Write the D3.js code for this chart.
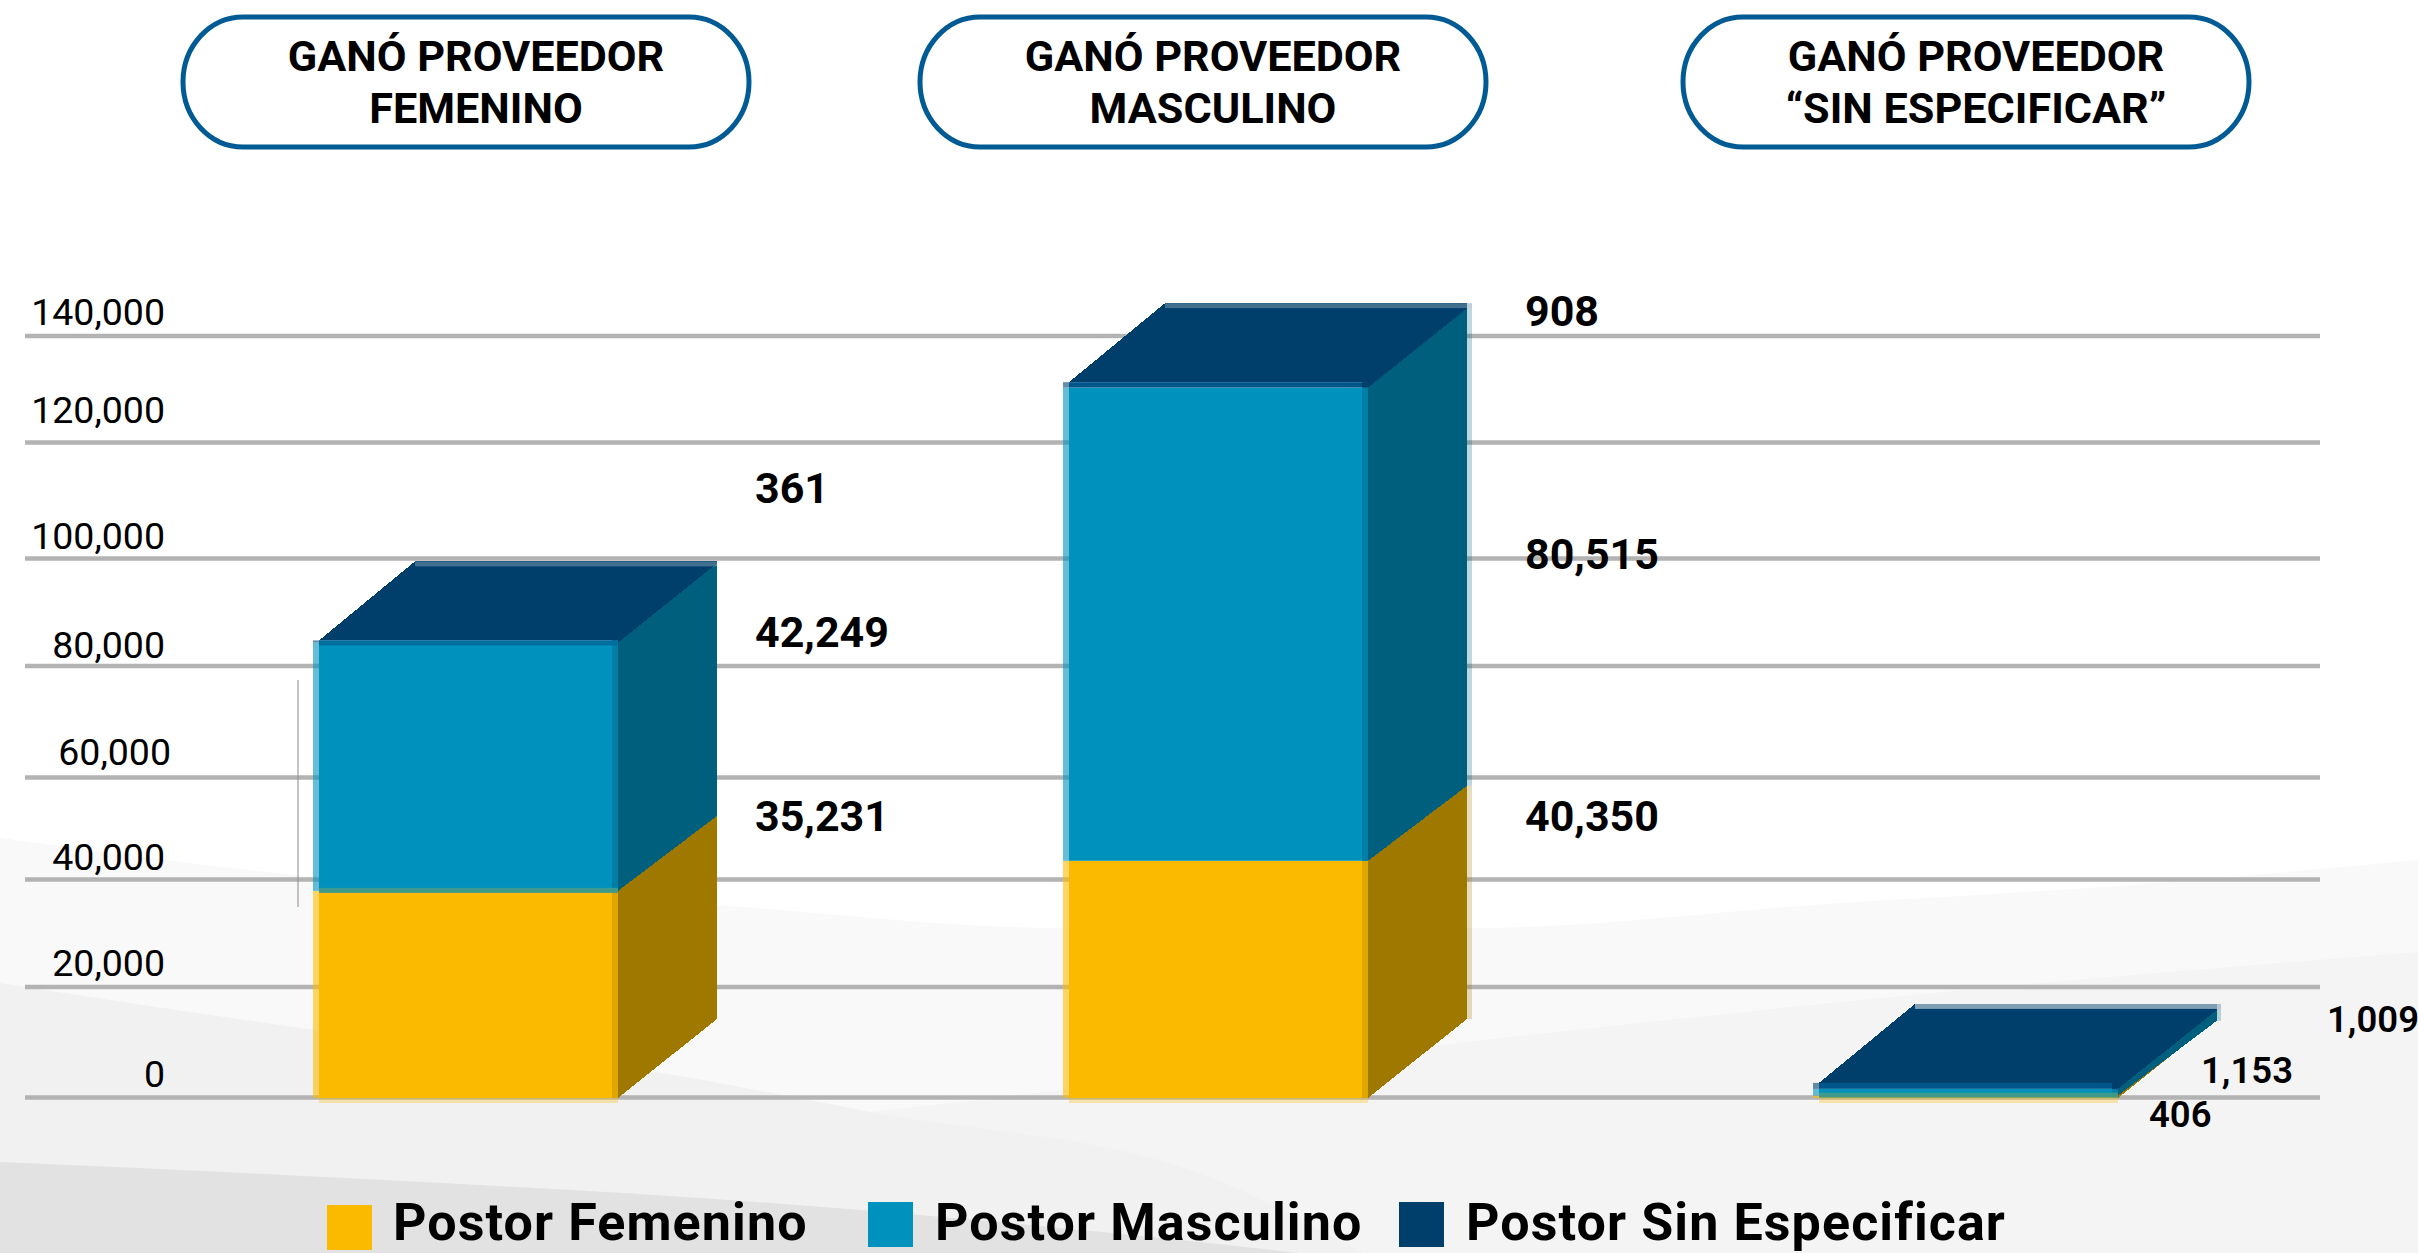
<!DOCTYPE html>
<html>
<head>
<meta charset="utf-8">
<script src="https://cdn.jsdelivr.net/npm/d3@7/dist/d3.min.js"></script>
<style>
  html, body { margin: 0; padding: 0; background: #fff; }
  text { font-family: Roboto, sans-serif; fill: #000; }
</style>
</head>
<body>
<script>
// data
var categories = ['Femenino', 'Masculino', 'Sin Especificar'];
var seriesNames = ['Postor Femenino', 'Postor Masculino', 'Postor Sin Especificar'];
var femenino = [35231, 40350, 406];
var masculino = [42249, 80515, 1153];
var sinEspecificar = [361, 908, 1009];
var tickValues = [0, 20000, 40000, 60000, 80000, 100000, 120000, 140000];
var panelLines = [
  ['GANÓ PROVEEDOR', 'FEMENINO'],
  ['GANÓ PROVEEDOR', 'MASCULINO'],
  ['GANÓ PROVEEDOR', '“SIN ESPECIFICAR”']
];

// the gridlines of the original are not evenly spaced, the bars are on their own scale
var gridY = [1097, 986.5, 879, 777, 665.5, 558, 442, 335.5];
var tickBaseline = [1087, 976, 870, 765, 658, 549, 423, 325];
var tickRight = [165, 165, 165, 171, 165, 165, 165, 165];

var width = 2418;
var height = 1253;
var depthX = 99;
var depthY = 79;
var boundaryDepthY = 75;
var fringe = 6;
var sideFringe = [0, 5, 4];

var colors = ['#fbba00', '#0091bd', '#003f6b'];
var frontEdge = ['#e0a600', '#007ea6', '#003f6b'];
var sideColors = ['#9f7800', '#005f7c', '#003f6b'];

var svg = d3.select('body').append('svg')
  .attr('width', width).attr('height', height)
  .style('display', 'block');

// background shapes
var bgLine = d3.line().curve(d3.curveMonotoneX);
var bgShapes = [
  {fill: '#f9f9f9', pts: [[0, 838], [316, 877], [717, 905], [1064, 928], [1471, 928], [1841, 903], [2130, 885], [2418, 860]], tail: [[2418, 1253], [0, 1253]]},
  {fill: '#f4f4f4', pts: [[871, 1112], [1064, 1090], [1440, 1045], [1965, 990], [2418, 952]], tail: [[2418, 1253], [871, 1253]]},
  {fill: '#f1f1f1', pts: [[0, 983], [316, 1030], [655, 1072], [871, 1112], [1209, 1177], [1363, 1253]], tail: [[0, 1253]]},
  {fill: '#e2e2e2', pts: [[0, 1162], [385, 1180], [771, 1203], [1209, 1243], [1300, 1253]], tail: [[0, 1253]]}
];
bgShapes.forEach(function(s) {
  var d = bgLine(s.pts) + s.tail.map(function(p) { return 'L' + p[0] + ',' + p[1]; }).join('') + 'Z';
  svg.append('path').attr('d', d).attr('fill', s.fill);
});

// header pills
var pillX = [183, 920, 1683];
var pills = svg.selectAll('g.pill').data(panelLines).enter().append('g').attr('class', 'pill');
pills.append('rect')
  .attr('x', function(d, i) { return pillX[i]; })
  .attr('y', 17).attr('width', 566).attr('height', 130)
  .attr('rx', 60).attr('ry', 65)
  .attr('fill', '#fff').attr('stroke', '#005a94').attr('stroke-width', 5);
pills.selectAll('text').data(function(d, i) {
  return d.map(function(t) { return {t: t, i: i}; });
}).enter().append('text')
  .attr('x', function(d) { return pillX[d.i] + 293; })
  .attr('y', function(d, j) { return j === 0 ? 71 : 123; })
  .attr('text-anchor', 'middle')
  .style('font-size', '43.2px').style('font-weight', 700)
  .text(function(d) { return d.t; });

// gridlines and tick labels
var yGrid = d3.scaleLinear().domain(tickValues).range(gridY);
var axis = d3.axisLeft(yGrid).tickValues(tickValues).tickSize(-2295).tickFormat(d3.format(','));
var axisG = svg.append('g').attr('transform', 'translate(25,0)').call(axis);
axisG.select('.domain').remove();
axisG.selectAll('.tick line').attr('stroke', '#b3b3b3').attr('stroke-width', 4.5);
axisG.selectAll('.tick text')
  .attr('text-anchor', 'end').attr('dy', 0)
  .attr('x', function(d, i) { return tickRight[i] - 25; })
  .attr('y', function(d, i) { return tickBaseline[i] - yGrid(d) - 0.5; })
  .style('font-family', 'Roboto, sans-serif')
  .style('font-size', '37.5px').style('font-weight', 400).style('fill', '#000');

// stray thin line left of the first bar
svg.append('line').attr('x1', 298).attr('x2', 298).attr('y1', 680).attr('y2', 907)
  .attr('stroke', '#8a8a8a').attr('stroke-width', 1);

// bars
var x = d3.scalePoint().domain(categories).range([313, 1813]);
var yBar = d3.scaleLinear().domain([0, 140000]).range([1098, 275]);
var barWidth = 305;

var rows = categories.map(function(c, i) {
  return {cat: c, a: femenino[i], b: masculino[i], c: sinEspecificar[i]};
});
var stacked = d3.stack().keys(['a', 'b', 'c'])(rows);

categories.forEach(function(cat, i) {
  var g = svg.append('g').attr('class', 'bar');
  var left = x(cat) + fringe;
  var right = x(cat) + barWidth;
  var total = stacked[2][i][1];

  stacked.forEach(function(layer, k) {
    var y0 = yBar(layer[i][0]);
    var y1 = yBar(layer[i][1]);
    // the yellow/blue join sits a little lower on the back edge of the side face
    var backY0 = y0 - (k === 1 ? boundaryDepthY : depthY);
    var backY1 = y1 - (k === 0 ? boundaryDepthY : depthY);
    // light edge on the left
    g.append('rect').attr('x', x(cat)).attr('y', y1).attr('width', fringe).attr('height', y0 - y1)
      .attr('fill', colors[k]).attr('opacity', 0.6);
    g.append('rect').attr('x', left).attr('y', y1).attr('width', right - left).attr('height', y0 - y1)
      .attr('fill', k === 2 ? '#00558a' : colors[k]);
    g.append('rect').attr('x', right - fringe).attr('y', y1).attr('width', fringe).attr('height', y0 - y1)
      .attr('fill', frontEdge[k]);
    // side face
    g.append('polygon')
      .attr('points', [[right, y0], [right + depthX, backY0], [right + depthX, backY1], [right, y1]].join(' '))
      .attr('fill', sideColors[k]).attr('shape-rendering', 'crispEdges');
    if (sideFringe[i] > 0) {
      g.append('rect').attr('x', right + depthX).attr('y', backY1)
        .attr('width', sideFringe[i]).attr('height', Math.max(0, backY0 - backY1))
        .attr('fill', sideColors[k]).attr('opacity', 0.25);
    }
  });

  // soft strip under the base
  g.append('rect').attr('x', left).attr('y', 1098).attr('width', right - left).attr('height', 5)
    .attr('fill', colors[0]).attr('opacity', 0.3);

  // blended band between yellow and blue
  if (i !== 1) {
    var yb = yBar(stacked[0][i][1]);
    g.append('rect').attr('x', left).attr('y', yb - 3).attr('width', right - left).attr('height', 5)
      .attr('fill', '#3f9a8e');
  }

  // top face
  var yTop = yBar(total);
  if (i === 0) {
    g.append('rect').attr('x', left).attr('y', yTop).attr('width', right - left).attr('height', 5)
      .attr('fill', '#006e9f');
  }
  g.append('polygon')
    .attr('points', [[left, yTop], [left + 96, yTop - depthY], [right + depthX, yTop - depthY], [right, yTop]].join(' '))
    .attr('fill', colors[2]).attr('shape-rendering', 'crispEdges');
  g.append('rect').attr('x', left + 96).attr('y', yTop - depthY).attr('width', right + depthX - left - 96).attr('height', 5)
    .attr('fill', '#fff').attr('opacity', i === 2 ? 0.5 : 0.25);
});

// value labels
var fmt = d3.format(',');
var labelX = [
  [755, 755, 755],
  [1525, 1525, 1525],
  [2149, 2201, 2327]
];
var labelY = [
  [831, 647, 503],
  [831, 569, 326],
  [1127, 1083, 1032]
];
categories.forEach(function(cat, i) {
  stacked.forEach(function(layer, k) {
    svg.append('text')
      .attr('x', labelX[i][k]).attr('y', labelY[i][k])
      .style('font-size', i === 2 ? '36.5px' : '43px')
      .style('font-weight', i === 2 ? 600 : 700)
      .text(fmt(layer[i][1] - layer[i][0]));
  });
});

// legend
var legendSwatchX = [327, 868, 1399];
var legendSwatchY = [1205, 1202, 1202];
var legendTextX = [393, 935, 1466];
var legend = svg.selectAll('g.legend').data(seriesNames).enter().append('g').attr('class', 'legend');
legend.append('rect')
  .attr('x', function(d, i) { return legendSwatchX[i]; })
  .attr('y', function(d, i) { return legendSwatchY[i]; })
  .attr('width', 45).attr('height', 45)
  .attr('fill', function(d, i) { return colors[i]; });
legend.append('text')
  .attr('x', function(d, i) { return legendTextX[i]; })
  .attr('y', 1240)
  .style('font-size', '52px').style('font-weight', 700)
  .style('letter-spacing', '1.1px')
  .text(function(d) { return d; });
</script>
</body>
</html>
